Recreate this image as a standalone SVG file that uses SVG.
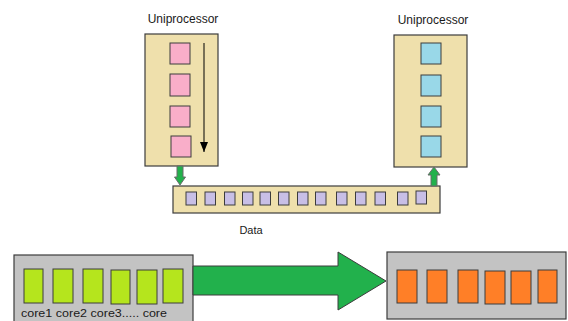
<svg xmlns="http://www.w3.org/2000/svg" width="568" height="321" viewBox="0 0 568 321">
<style>
text{font-family:"Liberation Sans",Arial,sans-serif;fill:#1a1a1a}
.box{fill:#EFE0AC;stroke:#3c3c3c;stroke-width:1.2}
.pink{fill:#F9AEC9;stroke:#3c3c3c;stroke-width:1}
.blue{fill:#99D8E8;stroke:#3c3c3c;stroke-width:1}
.lav{fill:#C8BFE6;stroke:#3c3c3c;stroke-width:1}
.gray{fill:#C3C3C3;stroke:#3c3c3c;stroke-width:1.2}
.lime{fill:#B5E51D;stroke:#3c3c3c;stroke-width:1}
.orange{fill:#FF7F27;stroke:#3c3c3c;stroke-width:1}
.garrow{fill:#22B14C;stroke:#6a6a6a;stroke-width:1}
</style>
<defs>
<marker id="ah" markerWidth="10" markerHeight="8" refX="10" refY="4" orient="auto" markerUnits="userSpaceOnUse" viewBox="0 0 10 8">
<path d="M0,0 L10,4 L0,8 Z" fill="#000"/>
</marker>
</defs>
<g id="uniproc-left">
<text x="183" y="23" text-anchor="middle" font-size="12">Uniprocessor</text>
<rect class="box" x="145" y="34" width="73" height="132"/>
<rect class="pink" x="170" y="43" width="20" height="21"/>
<rect class="pink" x="170" y="74" width="20" height="22"/>
<rect class="pink" x="170" y="106" width="20" height="21"/>
<rect class="pink" x="171" y="136" width="20" height="21"/>
</g>
<g id="uniproc-right">
<text x="433" y="24" text-anchor="middle" font-size="12">Uniprocessor</text>
<rect class="box" x="394" y="35" width="73" height="132"/>
<rect class="blue" x="421" y="43" width="20" height="21"/>
<rect class="blue" x="421" y="75" width="20" height="21"/>
<rect class="blue" x="421" y="106" width="20" height="21"/>
<rect class="blue" x="421" y="136" width="20" height="21"/>
</g>
<g id="data">
<rect class="box" x="173" y="186" width="267" height="27"/>
<rect class="lav" x="186" y="192" width="10.5" height="13"/>
<rect class="lav" x="205" y="192" width="10.5" height="13"/>
<rect class="lav" x="224.5" y="192" width="10.5" height="13"/>
<rect class="lav" x="242.5" y="192" width="10.5" height="13"/>
<rect class="lav" x="260" y="192" width="10.5" height="13"/>
<rect class="lav" x="278.5" y="192" width="10.5" height="13"/>
<rect class="lav" x="297.5" y="192" width="10.5" height="13"/>
<rect class="lav" x="315.5" y="192" width="10.5" height="13"/>
<rect class="lav" x="336.5" y="192" width="10.5" height="13"/>
<rect class="lav" x="355.5" y="192" width="10.5" height="13"/>
<rect class="lav" x="375" y="192" width="10.5" height="13"/>
<rect class="lav" x="397.5" y="192" width="10.5" height="13"/>
<rect class="lav" x="416" y="191" width="10.5" height="13"/>
<text x="251" y="234" text-anchor="middle" font-size="11">Data</text>
</g>
<g id="multicore">
<rect class="gray" x="14" y="255" width="179" height="72"/>
<rect class="lime" x="24" y="269" width="19" height="34"/>
<rect class="lime" x="53" y="269" width="20" height="34"/>
<rect class="lime" x="83" y="269" width="20" height="34"/>
<rect class="lime" x="111" y="270" width="19" height="34"/>
<rect class="lime" x="137" y="270" width="20" height="34"/>
<rect class="lime" x="163" y="269" width="20" height="34"/>
<text x="21" y="317" font-size="11" textLength="146" lengthAdjust="spacingAndGlyphs">core1 core2 core3..... core</text>
</g>
<g id="target">
<rect class="gray" x="387" y="252" width="179" height="67"/>
<rect class="orange" x="397" y="270" width="20" height="33"/>
<rect class="orange" x="427" y="270" width="20" height="33"/>
<rect class="orange" x="458" y="270" width="20" height="33"/>
<rect class="orange" x="485" y="271" width="20" height="33"/>
<rect class="orange" x="511" y="271" width="20" height="33"/>
<rect class="orange" x="538" y="270" width="19" height="33"/>
</g>
<g id="connectors">
<line x1="204" y1="43" x2="204" y2="152" stroke="#000" stroke-width="1" marker-end="url(#ah)"/>
<path class="garrow" d="M177,166 L183,166 L183,177 L185.5,177 L180,185 L174.5,177 L177,177 Z"/>
<path class="garrow" d="M431,186 L437,186 L437,175 L440,175 L434,167 L428,175 L431,175 Z"/>
<path d="M193,266 L338,266 L338,252 L386,281 L338,310 L338,295 L193,295 Z" fill="#22B14C" stroke="#3c3c3c" stroke-width="1"/>
</g>
</svg>
